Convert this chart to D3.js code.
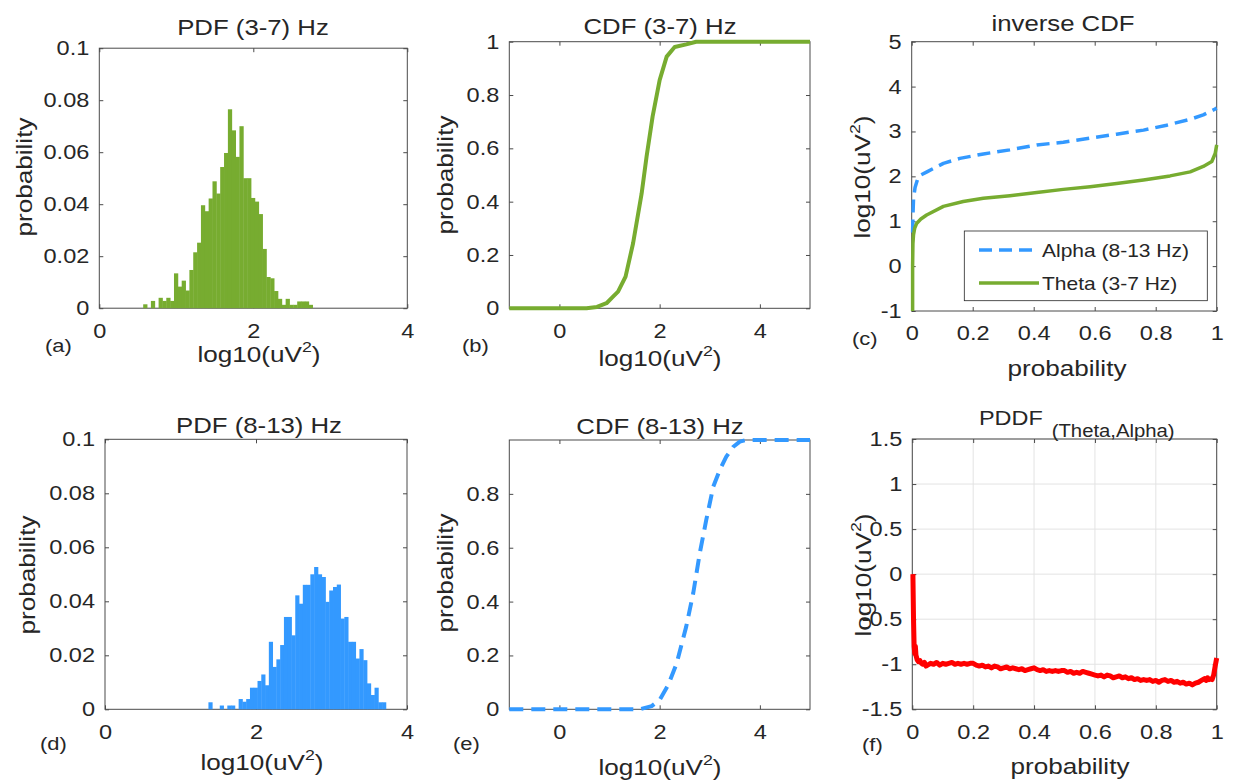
<!DOCTYPE html>
<html><head><meta charset="utf-8">
<script src="https://cdn.jsdelivr.net/npm/d3@7"></script>
<style>body{margin:0;background:#fff}</style>
</head><body><svg id="c" width="1233" height="781"></svg>
<script>
// ---------------- data ----------------
const thetaBinStart = 0.57, thetaBinWidth = 0.05;
const thetaPdf = [0.0015,0,0.0028,0,0.0040,0.0028,0.0040,0.0028,0.0134,0.0083,0.0106,0.0068,0.0147,0.0215,0.0252,0.0396,0.0373,0.0422,0.0488,0.0441,0.0543,0.0597,0.0765,0.0684,0.0582,0.0700,0.0500,0.0500,0.0424,0.0410,0.0362,0.0228,0.0120,0.0115,0.0066,0.0036,0.0013,0.0036,0.0013,0.0013,0.0026,0.0026,0.0026,0.0013];
const alphaBinStart = 1.37, alphaBinWidth = 0.05;
const alphaPdf = [0.0026,0,0,0.0014,0,0.0014,0.0014,0,0.0038,0.0028,0.0038,0.0080,0.0080,0.0105,0.0129,0.0089,0.0250,0.0157,0.0185,0.0238,0.0342,0.0342,0.0274,0.0422,0.0391,0.0461,0.0461,0.0500,0.0527,0.0500,0.0490,0.0398,0.0440,0.0453,0.0462,0.0336,0.0342,0.0250,0.0250,0.0188,0.0223,0.0182,0.0096,0.0053,0.0080,0.0026,0.0026];

const cdfThetaX = [-1,0.54,0.75,0.94,1.05,1.17,1.32,1.47,1.64,1.74,1.86,2.0,2.14,2.30,2.53,2.73,5];
const cdfThetaY = [0,0,0.005,0.019,0.04,0.0625,0.119,0.244,0.43,0.57,0.72,0.856,0.944,0.98,0.99,1.0,1.0];
const cdfAlphaX = [-1,1.60,1.84,2.0,2.17,2.34,2.53,2.67,2.80,2.93,3.07,3.2,3.33,3.47,3.6,3.73,5];
const cdfAlphaY = [0,0,0.012,0.035,0.09,0.171,0.307,0.431,0.579,0.703,0.827,0.889,0.938,0.975,0.994,1,1];

const invAlphaP = [0.003,0.004,0.006,0.011,0.022,0.05,0.104,0.158,0.235,0.322,0.41,0.497,0.585,0.672,0.76,0.836,0.913,0.956,0.989,1.0];
const invAlphaV = [0.75,1.1,1.5,1.75,2.0,2.1,2.29,2.40,2.50,2.59,2.70,2.76,2.85,2.94,3.03,3.14,3.27,3.37,3.48,3.52];
const invThetaP = [0.003,0.003,0.004,0.006,0.01,0.016,0.03,0.049,0.104,0.169,0.235,0.322,0.41,0.497,0.585,0.672,0.76,0.847,0.913,0.956,0.984,0.995,1.0];
const invThetaV = [-1,0,0.5,0.7,0.85,0.95,1.05,1.14,1.33,1.44,1.51,1.57,1.64,1.71,1.77,1.84,1.92,2.01,2.10,2.22,2.33,2.51,2.70];

const pddfP = [0.002,0.004,0.006,0.008,0.010,0.012,0.016,0.020,0.025,0.030,0.035,0.040,0.045,0.050,0.060,0.070,0.080,0.090,0.100,0.110,0.120,0.130,0.140,0.150,0.160,0.170,0.180,0.190,0.200,0.210,0.220,0.230,0.240,0.250,0.260,0.270,0.280,0.290,0.300,0.310,0.320,0.330,0.340,0.350,0.360,0.370,0.380,0.390,0.400,0.410,0.420,0.430,0.440,0.450,0.460,0.470,0.480,0.490,0.500,0.510,0.520,0.530,0.540,0.550,0.560,0.570,0.580,0.590,0.600,0.610,0.620,0.630,0.640,0.650,0.660,0.670,0.680,0.690,0.700,0.710,0.720,0.730,0.740,0.750,0.760,0.770,0.780,0.790,0.800,0.810,0.820,0.830,0.840,0.850,0.860,0.870,0.880,0.890,0.900,0.910,0.920,0.930,0.940,0.950,0.960,0.965,0.970,0.975,0.980,0.985,0.990,0.995,1.000];
const pddfV = [0.0,-0.5,-0.8,-0.88,-0.80,-0.90,-0.95,-0.97,-0.96,-0.99,-1.00,-0.98,-1.02,-1.01,-0.99,-1.00,-0.98,-1.01,-0.99,-1.00,-0.99,-0.98,-1.00,-0.99,-1.00,-0.99,-1.00,-0.99,-0.99,-1.01,-1.02,-1.01,-1.03,-1.02,-1.04,-1.02,-1.03,-1.05,-1.04,-1.03,-1.05,-1.04,-1.05,-1.06,-1.05,-1.07,-1.06,-1.05,-1.04,-1.06,-1.07,-1.06,-1.08,-1.07,-1.08,-1.07,-1.08,-1.07,-1.07,-1.09,-1.08,-1.10,-1.09,-1.10,-1.08,-1.09,-1.10,-1.11,-1.12,-1.13,-1.12,-1.14,-1.12,-1.13,-1.15,-1.14,-1.13,-1.15,-1.14,-1.16,-1.15,-1.17,-1.16,-1.18,-1.17,-1.18,-1.17,-1.19,-1.18,-1.20,-1.18,-1.17,-1.19,-1.18,-1.20,-1.19,-1.21,-1.20,-1.22,-1.21,-1.23,-1.21,-1.20,-1.18,-1.16,-1.18,-1.15,-1.17,-1.16,-1.17,-1.12,-1.02,-0.93];

const pdfXTicks = [0,2,4], pdfXLabels = ["0","2","4"];
const pdfYTicks = [0,0.02,0.04,0.06,0.08,0.1], pdfYLabels = ["0","0.02","0.04","0.06","0.08","0.1"];
const cdfXTicks = [0,2,4], cdfXLabels = ["0","2","4"];
const cdfYTicks = [0,0.2,0.4,0.6,0.8,1], cdfYLabels = ["0","0.2","0.4","0.6","0.8","1"];
const cdf2YTicks = [0,0.2,0.4,0.6,0.8], cdf2YLabels = ["0","0.2","0.4","0.6","0.8"];
const probTicks = [0,0.2,0.4,0.6,0.8,1], probLabels = ["0","0.2","0.4","0.6","0.8","1"];
const invYTicks = [-1,0,1,2,3,4,5], invYLabels = ["-1","0","1","2","3","4","5"];
const pddfYTicks = [-1.5,-1,-0.5,0,0.5,1,1.5], pddfYLabels = ["-1.5","-1","-0.5","0","0.5","1","1.5"];
const legendLabels = ["Alpha (8-13 Hz)","Theta (3-7 Hz)"];

// ---------------- style ----------------
const K = 1.16;
const FONT = '"Liberation Sans", Arial, Helvetica, sans-serif';
const TXT = '#262626', AXC = '#4a4a4a';
const GREEN = '#77AC30', BLUE = '#3399FF', RED = '#FF0000';
const TICK = 20.3, LAB = 22.5, TIT = 22.2;
const svg = d3.select('#c');
svg.append('rect').attr('width',1233).attr('height',781).attr('fill','#fff');

function txt(x,y,str,o={}){
  const size=o.size||LAB, anchor=o.anchor||'middle', rot=o.rot||0;
  const g=svg.append('g').attr('transform',`translate(${x},${y}) rotate(${rot}) scale(${K},1)`);
  const t=g.append('text').attr('text-anchor',anchor).attr('font-size',size).attr('fill',TXT).style('font-family',FONT);
  t.append('tspan').text(str);
  if(o.sup){
    t.append('tspan').attr('font-size',size*0.68).attr('dy',-size*0.45).text(o.sup);
    t.append('tspan').attr('dy',size*0.45).text(o.after||'');
  }
  return t;
}

function panel(b, xd, yd, xt, xl, yt, yl, grid){
  const x=d3.scaleLinear().domain(xd).range([b.x0,b.x1]);
  const y=d3.scaleLinear().domain(yd).range([b.y1,b.y0]);
  const g=svg.append('g');
  if(grid){
    g.selectAll('.gx').data(xt).enter().append('line')
      .attr('x1',d=>x(d)).attr('x2',d=>x(d)).attr('y1',b.y0).attr('y2',b.y1)
      .attr('stroke','#e3e3e3').attr('stroke-width',1);
    g.selectAll('.gy').data(yt).enter().append('line')
      .attr('y1',d=>y(d)).attr('y2',d=>y(d)).attr('x1',b.x0).attr('x2',b.x1)
      .attr('stroke','#e3e3e3').attr('stroke-width',1);
  }
  const style=(s)=>{
    s.select('.domain').remove();
    s.selectAll('.tick line').attr('stroke',AXC);
    s.selectAll('.tick text').attr('fill',TXT).attr('font-size',TICK).style('font-family',FONT)
      .each(function(){const t=d3.select(this);const xx=+t.attr('x')||0;t.attr('x',xx/K).attr('transform',`scale(${K},1)`);});
  };
  g.append('g').attr('transform',`translate(0,${b.y1})`)
    .call(d3.axisBottom(x).tickValues(xt).tickFormat((d,i)=>xl[i]).tickSizeInner(-4).tickSizeOuter(0).tickPadding(15)).call(style);
  g.append('g').attr('transform',`translate(0,${b.y0})`)
    .call(d3.axisTop(x).tickValues(xt).tickFormat('').tickSizeInner(-4).tickSizeOuter(0)).call(style);
  g.append('g').attr('transform',`translate(${b.x0},0)`)
    .call(d3.axisLeft(y).tickValues(yt).tickFormat((d,i)=>yl[i]).tickSizeInner(-4).tickSizeOuter(0).tickPadding(10)).call(style);
  g.append('g').attr('transform',`translate(${b.x1},0)`)
    .call(d3.axisRight(y).tickValues(yt).tickFormat('').tickSizeInner(-4).tickSizeOuter(0)).call(style);
  g.append('rect').attr('x',b.x0).attr('y',b.y0).attr('width',b.x1-b.x0).attr('height',b.y1-b.y0)
    .attr('fill','none').attr('stroke',AXC).attr('stroke-width',1);
  return {x,y,g};
}

function hist(p, start, w, vals, color){
  p.g.selectAll(null).data(vals).enter().append('rect')
    .attr('x',(d,i)=>p.x(start+i*w))
    .attr('width',(d,i)=>p.x(start+(i+1)*w)-p.x(start+i*w)+0.4)
    .attr('y',d=>p.y(d)).attr('height',d=>p.y(0)-p.y(d))
    .attr('fill',color);
}
function line(p, xs, ys, color, width, dash){
  const l=d3.line().x(i=>p.x(xs[i])).y(i=>p.y(ys[i]));
  const path=p.g.append('path').attr('d',l(d3.range(xs.length))).attr('fill','none')
    .attr('stroke',color).attr('stroke-width',width).attr('stroke-linejoin','round');
  if(dash) path.attr('stroke-dasharray',dash);
  return path;
}

// boxes
const A={x0:99.3,x1:407.3,y0:48.2,y1:308.2};
const B={x0:509.3,x1:810,y0:41.7,y1:308.3};
const C={x0:911.7,x1:1216.7,y0:41.7,y1:311};
const D={x0:105,x1:407,y0:439.3,y1:709.3};
const E={x0:509.3,x1:810,y0:440,y1:709.3};
const F={x0:912.3,x1:1216.7,y0:439,y1:709.3};

// (a)
const pa=panel(A,[0,4],[0,0.1],pdfXTicks,pdfXLabels,pdfYTicks,pdfYLabels,false);
hist(pa,thetaBinStart,thetaBinWidth,thetaPdf,GREEN);
// (b)
const pb=panel(B,[-1,5],[0,1],cdfXTicks,cdfXLabels,cdfYTicks,cdfYLabels,false);
line(pb,cdfThetaX,cdfThetaY,GREEN,4);
// (c)
const pc=panel(C,[0,1],[-1,5],probTicks,probLabels,invYTicks,invYLabels,false);
line(pc,invAlphaP,invAlphaV,BLUE,3.5,'13,7');
line(pc,invThetaP,invThetaV,GREEN,3.5);
// legend
const lg=svg.append('g');
lg.append('rect').attr('x',964.3).attr('y',231).attr('width',243).attr('height',69.7)
  .attr('fill','#fff').attr('stroke','#262626').attr('stroke-width',0.8);
lg.append('line').attr('x1',979).attr('x2',1039).attr('y1',250).attr('y2',250)
  .attr('stroke',BLUE).attr('stroke-width',3.5).attr('stroke-dasharray','13,7');
lg.append('line').attr('x1',979).attr('x2',1039).attr('y1',283).attr('y2',283)
  .attr('stroke',GREEN).attr('stroke-width',3.5);
txt(1042,257,legendLabels[0],{size:18.1,anchor:'start'});
txt(1042,290,legendLabels[1],{size:18.1,anchor:'start'});
// (d)
const pd=panel(D,[0,4],[0,0.1],pdfXTicks,pdfXLabels,pdfYTicks,pdfYLabels,false);
hist(pd,alphaBinStart,alphaBinWidth,alphaPdf,BLUE);
// (e)
const pe=panel(E,[-1,5],[0,1],cdfXTicks,cdfXLabels,cdf2YTicks,cdf2YLabels,false);
line(pe,cdfAlphaX,cdfAlphaY,BLUE,4,'14,8');
// (f)
const pf=panel(F,[0,1],[-1.5,1.5],probTicks,probLabels,pddfYTicks,pddfYLabels,true);
line(pf,pddfP,pddfV,RED,5);

// titles
txt(253,35,'PDF (3-7) Hz',{size:TIT});
txt(660,34,'CDF (3-7) Hz',{size:TIT});
txt(1063,31,'inverse CDF',{size:TIT});
txt(259,433,'PDF (8-13) Hz',{size:TIT});
txt(660,434,'CDF (8-13) Hz',{size:TIT});
txt(979,425,'PDDF',{anchor:'start',size:20.2});
txt(1051.7,437,'(Theta,Alpha)',{anchor:'start',size:17.5});

// y labels
txt(32,177,'probability',{rot:-90});
txt(453,175,'probability',{rot:-90});
txt(870,177,'log10(uV',{rot:-90,sup:'2',after:')'});
txt(35,575,'probability',{rot:-90});
txt(453,573,'probability',{rot:-90});
txt(871,575,'log10(uV',{rot:-90,sup:'2',after:')'});

// x labels
txt(259,362,'log10(uV',{sup:'2',after:')'});
txt(660,366,'log10(uV',{sup:'2',after:')'});
txt(1067,376,'probability');
txt(262,770,'log10(uV',{sup:'2',after:')'});
txt(660,775,'log10(uV',{sup:'2',after:')'});
txt(1070,774,'probability');

// panel letters
txt(45,352,'(a)',{anchor:'start',size:18.9});
txt(462,352,'(b)',{anchor:'start',size:18.9});
txt(852,345,'(c)',{anchor:'start',size:18.9});
txt(40,750,'(d)',{anchor:'start',size:18.9});
txt(453,750,'(e)',{anchor:'start',size:18.9});
txt(862,751,'(f)',{anchor:'start',size:18.9});
</script></body></html>
